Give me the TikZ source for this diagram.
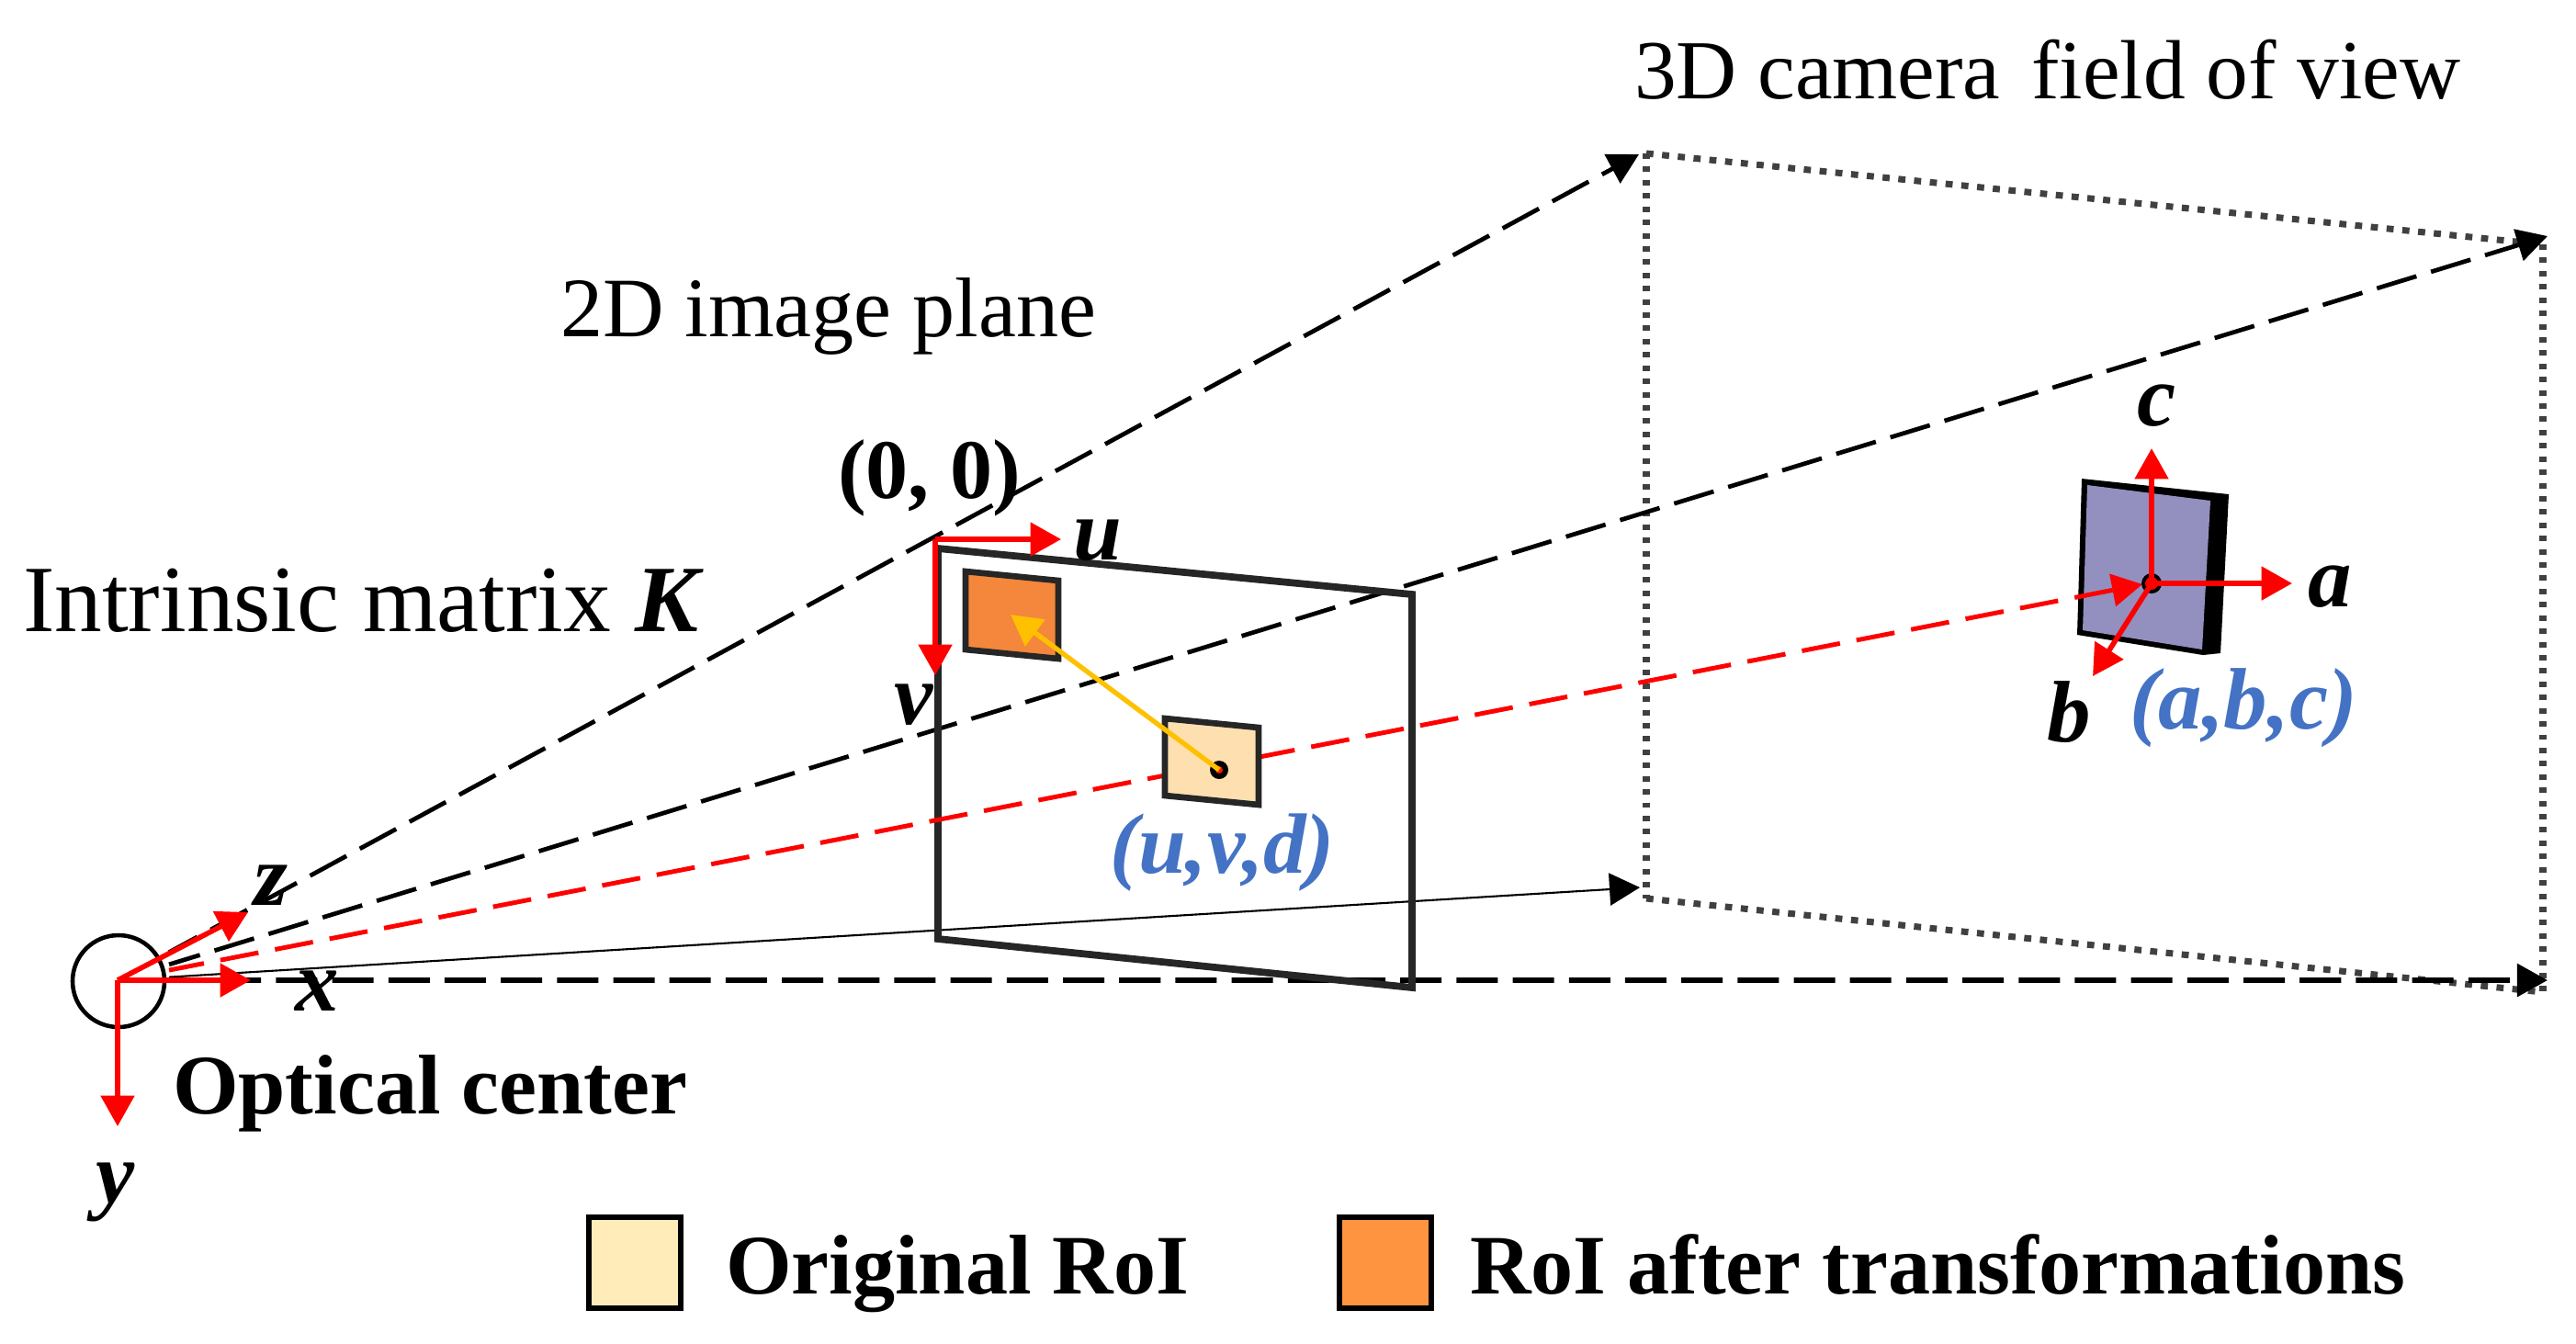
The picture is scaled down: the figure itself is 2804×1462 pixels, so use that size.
\documentclass[tikz,border=0pt]{standalone}
\usepackage{fontspec}
\setmainfont{Liberation Serif}
\usetikzlibrary{arrows.meta,calc}
\definecolor{framegray}{HTML}{262626}
\definecolor{roiorange}{HTML}{F4873B}
\definecolor{roilight}{HTML}{FEE0B0}
\definecolor{legorange}{HTML}{FF9440}
\definecolor{leglight}{HTML}{FFECB8}
\definecolor{cubeblue}{HTML}{9390C0}
\definecolor{labelblue}{HTML}{4472C4}
\definecolor{arrowyellow}{HTML}{FFC000}
\newcommand{\fsz}[1]{\fontsize{#1}{#1}\selectfont}
\tikzset{
  px/.style={x=0.01cm,y=-0.01cm},
  txt/.style={anchor=base west,inner sep=0pt,outer sep=0pt,text=black},
  plain/.style={txt,font=\fsz{26.2}},
  boldlab/.style={txt,font=\fsz{26.2}\bfseries},
  axlab/.style={txt,font=\fsz{27}\bfseries\itshape},
  bluelab/.style={txt,font=\fsz{26.5}\bfseries\itshape,text=labelblue},
  viewline/.style={black,line width=1.35pt,dash pattern=on 12.8pt off 4.7pt,dash phase=2.8pt,-{Triangle[length=9.4pt,width=10pt]}},
  horizline/.style={black,line width=1.6pt,dash pattern=on 12.8pt off 4.6pt,-{Triangle[length=9.4pt,width=10pt]}},
  thinline/.style={black,line width=0.6pt,-{Triangle[length=9.4pt,width=10pt]}},
  rayred/.style={red,line width=1.4pt,dash pattern=on 12pt off 5.2pt,dash phase=1pt,-{Triangle[length=9.4pt,width=10pt]}},
  redax/.style={red,line width=1.6pt,-{Triangle[length=9.5pt,width=10.2pt]}},
  yellowax/.style={arrowyellow,line width=1.5pt,-{Triangle[length=9.5pt,width=10pt]}},
  dotv/.style={black!75,line width=2.2pt,dash pattern=on 1.7pt off 2.4pt},
  doth/.style={black!75,line width=2pt,dash pattern=on 2.2pt off 2.7pt},
  planeline/.style={framegray,line width=2.2pt,line join=miter},
  roibox/.style={framegray,line width=1.9pt,line join=miter},
  legbox/.style={black,line width=1.8pt},
}
\begin{document}
\begin{tikzpicture}[px]
\useasboundingbox (0,0) rectangle (2804,1462);
% named points
\coordinate (O) at (128,1067);
\coordinate (ftl) at (1792,167);
\coordinate (ftr) at (2768,266);
\coordinate (fbl) at (1792,978);
\coordinate (fbr) at (2768,1080);
\coordinate (tiptl) at (1784,168);
\coordinate (tiptr) at (2773,257);
\coordinate (tipbl) at (1785,966);
\coordinate (tipbr) at (2773,1067);
\coordinate (ptl) at (1021,597);
\coordinate (ptr) at (1537,647);
\coordinate (pbr) at (1537,1075);
\coordinate (pbl) at (1021,1022);
\coordinate (dot2d) at (1327,838);
\coordinate (ctr3d) at (2342,635);
\coordinate (tipray) at (2332,636);
% field of view
\draw[dotv] (ftl) -- (fbl);
\draw[dotv] (ftr) -- (fbr);
\draw[doth] (ftl) -- (ftr);
\draw[doth] (fbl) -- (fbr);
% rays
\draw[viewline] ($(O)!0.0338!(tiptl)$) -- (tiptl);
\draw[viewline] ($(O)!0.0212!(tiptr)$) -- (tiptr);
\draw[thinline] ($(O)!0.0338!(tipbl)$) -- (tipbl);
\draw[horizline] ($(O)!0.0189!(tipbr)$) -- (tipbr);
% plane
\draw[planeline] (ptl) -- (ptr) -- (pbr) -- (pbl) -- cycle;
% 3D object
\fill[black] (2266,521) -- (2426,538) -- (2417,711) -- (2398,713) -- (2261,691) -- cycle;
\fill[cubeblue] (2272,528) -- (2406,545) -- (2397,707) -- (2267,686) -- cycle;
% red ray
\draw[rayred] ($(O)!0.0254!(tipray)$) -- (tipray);
% RoIs
\draw[roibox,fill=roiorange] (1051,622) -- (1152,632) -- (1152,717) -- (1051,707) -- cycle;
\draw[roibox,fill=roilight] (1268,782) -- (1370,792) -- (1370,876) -- (1268,866) -- cycle;
% dots
\fill[black] (dot2d) circle (10);
\fill[red!80!orange] (dot2d) circle (4);
\fill[black] (ctr3d) circle (11);
\fill[red] (ctr3d) circle (7);
% yellow
\draw[yellowax] (dot2d) -- (1100,669);
% red axes
\coordinate (zt) at (270,993);
\coordinate (xt) at (273,1067);
\coordinate (yt) at (128,1226);
\coordinate (ut) at (1155,587);
\coordinate (vt) at (1018,735);
\coordinate (pc) at (1018,587);
\draw[black,line width=1.3pt] (129,1068) circle (50);
\draw[redax] (O) -- (zt);
\draw[redax] (O) -- (xt);
\draw[redax] (O) -- (yt);
\draw[redax] (pc) -- (ut);
\draw[redax] (pc) -- (vt);
\coordinate (at) at (2495,635);
\coordinate (bt) at (2278,736);
\coordinate (ct) at (2342,488);
\draw[redax] (ctr3d) -- (at);
\draw[redax] (ctr3d) -- (bt);
\draw[redax] (ctr3d) -- (ct);
% labels
\node[plain,font=\fsz{26}] (t3d) at (1779,107) {3D camera\hspace{0.12em} field of view};
\node[plain] (t2d) at (610,366) {2D image plane};
\node[boldlab] (t00) at (912,542) {(0, 0)};
\node[plain,font=\fsz{29.4}] (tK) at (25,687) {Intrinsic matrix \textbf{\textit{K}}};
\node[boldlab] (topt) at (188,1212) {Optical center};
\node[bluelab] (tuvd) at (1208,950) {(u,v,d)};
\node[bluelab,font=\fsz{27}\bfseries\itshape] (tabc) at (2318,793) {(a,b,c)};
\node[axlab] (lu) at (1168,609) {u};
\node[axlab] (lv) at (973,788) {v};
\node[axlab] (lz) at (276,985) {z};
\node[axlab] (lx) at (321,1100) {x};
\node[axlab] (ly) at (104,1309) {y};
\node[axlab] (la) at (2512,660) {a};
\node[axlab] (lb) at (2228,807) {b};
\node[axlab] (lc) at (2326,463) {c};
% legend
\draw[legbox,fill=leglight] (641,1325) rectangle (741,1424);
\draw[legbox,fill=legorange] (1458,1325) rectangle (1558,1424);
\node[boldlab] (tleg1) at (790,1408) {Original RoI};
\node[boldlab] (tleg2) at (1600,1408) {RoI after transformations};
\end{tikzpicture}
\end{document}
